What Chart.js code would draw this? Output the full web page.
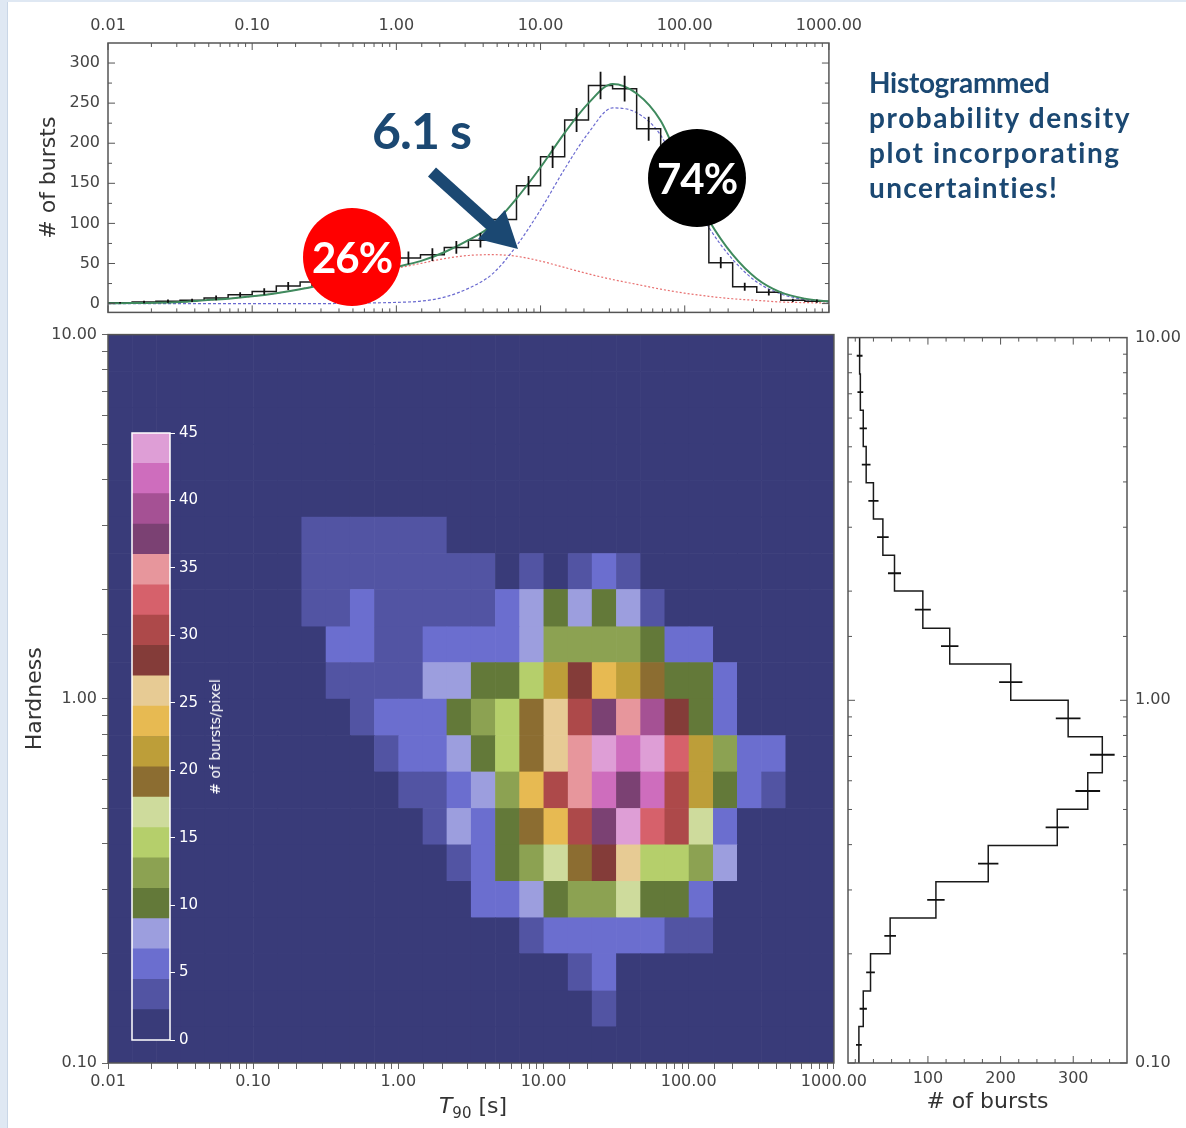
<!DOCTYPE html>
<html>
<head>
<meta charset="utf-8">
<title>T90 vs hardness</title>
<script src="https://cdn.jsdelivr.net/npm/chart.js@4.4.1/dist/chart.umd.min.js"></script>
<style>
  body { margin: 0; background: #fff; }
  #page { position: relative; width: 1186px; height: 1128px; overflow: hidden; background: #fff; font-family: "DejaVu Sans", sans-serif; }
  #page canvas { position: absolute; }
  #edge { position: absolute; left: 0; top: 0; width: 7px; height: 1128px; background: #dfe8f3; border-right: 1px solid #c9d6e6; }
  #topband { position: absolute; left: 0; top: 0; width: 1186px; height: 2px; background: #dfe8f3; }
  .blob { position: absolute; width: 98px; height: 98px; border-radius: 50%; color: #fff; font: bold 42px Lato, sans-serif; display: flex; align-items: center; justify-content: center; letter-spacing: -1px; }
  #note { position: absolute; left: 869px; top: 65px; font: bold 28px Lato, sans-serif; line-height: 35px; color: #1b4872; white-space: nowrap; }
  #split { position: absolute; left: 372px; top: 100px; font: bold 50px Lato, sans-serif; color: #1b4872; letter-spacing: -1px; }
  #t90title { position: absolute; left: 423px; top: 1093px; width: 100px; text-align: center; font-size: 22px; color: #333; }
  #t90title sub { font-size: 15px; }
  #cbtitle { position: absolute; left: 215px; top: 737px; transform: translate(-50%, -50%) rotate(-90deg); white-space: nowrap; font-size: 14px; color: #fff; }
  #arrow { position: absolute; left: 0; top: 0; }
</style>
</head>
<body>
<div id="page">
  <div id="edge"></div>
  <div id="topband"></div>
  <canvas id="topHist" width="870" height="330" style="left:0;top:0"></canvas>
  <canvas id="heat" width="870" height="808" style="left:0;top:320px"></canvas>
  <canvas id="sideHist" width="346" height="808" style="left:840px;top:320px"></canvas>
  <canvas id="cbar" width="110" height="640" style="left:120px;top:420px"></canvas>
  <div id="cbtitle"># of bursts/pixel</div>
  <div id="t90title"><i>T</i><sub>90</sub> [s]</div>
  <div id="note">
    <span style="letter-spacing:-0.3px">Histogrammed</span><br>
    <span style="letter-spacing:1.6px">probability density</span><br>
    <span style="letter-spacing:1.6px">plot incorporating</span><br>
    <span style="letter-spacing:1.35px">uncertainties!</span>
  </div>
  <div id="split">6.1 s</div>
  <svg id="arrow" width="1186" height="330">
    <line x1="432" y1="172" x2="494" y2="228" stroke="#1b4872" stroke-width="12"/>
    <polygon points="518,249 478,239 505,210" fill="#1b4872"/>
  </svg>
  <div class="blob" style="left:303px;top:208px;background:#ff0000">26%</div>
  <div class="blob" style="left:648px;top:129px;background:#000">74%</div>
</div>

<script>
// T90 bins (s) - shared by the top histogram and the columns of the map
const t90Edges = [0.01, 0.0147, 0.0215, 0.0316, 0.0464, 0.0681, 0.1, 0.147, 0.215, 0.316, 0.464, 0.681,
  1, 1.47, 2.15, 3.16, 4.64, 6.81, 10, 14.7, 21.5, 31.6, 46.4, 68.1, 100, 147, 215, 316, 464, 681, 1000];
const t90Counts = [1, 2, 3, 4, 7, 11, 15, 22, 27, 32, 40, 50, 57, 61, 70, 79, 105, 147, 183, 229,
  272, 268, 218, 178, 128, 51, 21, 14, 4, 3];
const t90Err = [1, 1.5, 2, 2, 3, 3, 4, 5, 5, 6, 6, 7, 8, 8, 8, 9, 10, 12, 14, 15, 17, 16, 15, 13, 11, 7, 5, 4, 2, 2];

// fitted components, read at the bin edges
const fitShort = [0.3, 0.6, 1, 2, 4, 6, 9, 13, 18, 24, 30, 37, 44, 50, 56, 60, 61, 59, 53, 45,
  37, 30, 24, 18, 13, 9, 6, 4, 2, 1.2, 0.6];
const fitLong = [0, 0, 0, 0, 0, 0, 0, 0, 0, 0, 0.3, 0.8, 1.5, 3, 8, 19, 37, 72, 117, 168,
  213, 244, 238, 210, 149, 95, 55, 27, 12, 5, 2];
const fitTotal = [0.3, 0.6, 1, 2, 4, 6, 9, 13, 18, 24, 30.3, 37.8, 45.5, 53, 64, 79, 98, 131, 170, 213,
  250, 274, 262, 228, 162, 104, 61, 31, 14, 6.2, 2.6];
const topCountTicks = [0, 25, 50, 75, 100, 125, 150, 175, 200, 225, 250, 275, 300];

// hardness bins, low to high
const hardEdges = [0.1, 0.126, 0.158, 0.2, 0.251, 0.316, 0.398, 0.501, 0.631, 0.794,
  1, 1.26, 1.58, 2, 2.51, 3.16, 3.98, 5.01, 6.31, 7.94, 10];
const hardCounts = [5, 11, 21, 48, 111, 183, 278, 320, 340, 293, 214, 130, 93, 54, 38, 25, 15, 11, 7, 6];
const hardErr = [4, 5, 6, 8, 12, 14, 16, 17, 17, 17, 16, 12, 11, 9, 8, 7, 6, 5, 4, 4];
const sideCountTicks = [0, 25, 50, 75, 100, 125, 150, 175, 200, 225, 250, 275, 300, 325, 350];

// bursts per pixel, rows from hardness 10 (top) down to 0.1, columns follow t90Edges
const heatCounts = [
  [0,0,0,0,0,0,0,0,0,0,0,0,0,0,0,0,0,0,0,0,0,0,0,0,0,0,0,0,0,0],
  [0,0,0,0,0,0,0,0,0,0,0,0,0,0,0,0,0,0,0,0,0,0,0,0,0,0,0,0,0,0],
  [0,0,0,0,0,0,0,0,0,0,0,0,0,0,0,0,0,0,0,0,0,0,0,0,0,0,0,0,0,0],
  [0,0,0,0,0,0,0,0,0,0,0,0,0,0,0,0,0,0,0,0,0,0,0,0,0,0,0,0,0,0],
  [0,0,0,0,0,0,0,0,0,0,0,0,0,0,0,0,0,0,0,0,0,0,0,0,0,0,0,0,0,0],
  [0,0,0,0,0,0,0,0,3,3,3,3,3,3,0,0,0,0,0,0,0,0,0,0,0,0,0,0,0,0],
  [0,0,0,0,0,0,0,0,3,3,3,3,3,3,3,3,0,3,0,3,5,3,0,0,0,0,0,0,0,0],
  [0,0,0,0,0,0,0,0,3,3,5,3,3,3,3,3,5,8,10,8,10,8,3,0,0,0,0,0,0,0],
  [0,0,0,0,0,0,0,0,0,5,5,3,3,5,5,5,5,8,12,12,12,12,10,5,5,0,0,0,0,0],
  [0,0,0,0,0,0,0,0,0,3,3,3,3,8,8,10,10,15,21,28,24,21,19,10,10,5,0,0,0,0],
  [0,0,0,0,0,0,0,0,0,0,3,5,5,5,10,12,15,19,26,30,37,35,39,28,10,5,0,0,0,0],
  [0,0,0,0,0,0,0,0,0,0,0,3,5,5,8,10,15,19,26,35,44,42,44,33,21,12,5,5,0,0],
  [0,0,0,0,0,0,0,0,0,0,0,0,3,3,5,8,12,24,30,35,42,37,42,30,21,10,5,3,0,0],
  [0,0,0,0,0,0,0,0,0,0,0,0,0,3,8,5,10,19,24,30,37,44,33,30,17,5,0,0,0,0],
  [0,0,0,0,0,0,0,0,0,0,0,0,0,0,3,5,10,12,17,19,28,26,15,15,12,8,0,0,0,0],
  [0,0,0,0,0,0,0,0,0,0,0,0,0,0,0,5,5,8,10,12,12,17,10,10,5,0,0,0,0,0],
  [0,0,0,0,0,0,0,0,0,0,0,0,0,0,0,0,0,3,5,5,5,5,5,3,3,0,0,0,0,0],
  [0,0,0,0,0,0,0,0,0,0,0,0,0,0,0,0,0,0,0,3,5,0,0,0,0,0,0,0,0,0],
  [0,0,0,0,0,0,0,0,0,0,0,0,0,0,0,0,0,0,0,0,3,0,0,0,0,0,0,0,0,0],
  [0,0,0,0,0,0,0,0,0,0,0,0,0,0,0,0,0,0,0,0,0,0,0,0,0,0,0,0,0,0]
];

// colour bar: 20 bands of 2.25 bursts/pixel (0 - 45)
const tab20b = ['#393b79', '#5254a3', '#6b6ecf', '#9c9ede', '#637939', '#8ca252', '#b5cf6b', '#cedb9c',
  '#8c6d31', '#bd9e39', '#e7ba52', '#e7cb94', '#843c39', '#ad494a', '#d6616b', '#e7969c',
  '#7b4173', '#a55194', '#ce6dbd', '#de9ed6'];
const cbStep = 2.25;

Chart.defaults.font.family = '"DejaVu Sans", sans-serif';
Chart.defaults.font.size = 16;
Chart.defaults.color = '#444';

function bandColor(n) {
  return tab20b[Math.min(tab20b.length - 1, Math.floor(n / cbStep))];
}

// label only the decades, matplotlib style 0.01 / 0.10 / 1.00 ...
function decadeLabel(v) {
  const l = Math.log10(v);
  return Math.abs(l - Math.round(l)) < 1e-6 ? Number(v).toFixed(2) : '';
}

function stepX(edges, vals) {
  const pts = [];
  vals.forEach(function(v, i) { pts.push({x: edges[i], y: v}, {x: edges[i + 1], y: v}); });
  return pts;
}
function stepY(edges, vals) {
  const pts = [];
  vals.forEach(function(v, i) { pts.push({x: v, y: edges[i]}, {x: v, y: edges[i + 1]}); });
  return pts;
}
function errBarsX(edges, vals, errs) {
  const pts = [];
  vals.forEach(function(v, i) {
    const c = Math.sqrt(edges[i] * edges[i + 1]);
    pts.push({x: c, y: v - errs[i]}, {x: c, y: v + errs[i]}, {x: c, y: null});
  });
  return pts;
}
function errBarsY(edges, vals, errs) {
  const pts = [];
  vals.forEach(function(v, i) {
    const c = Math.sqrt(edges[i] * edges[i + 1]);
    pts.push({x: v - errs[i], y: c}, {x: v + errs[i], y: c}, {x: v, y: null});
  });
  return pts;
}
function curve(edges, vals) {
  return edges.map(function(e, i) { return {x: e, y: vals[i]}; });
}
function line(data, color, width, extra) {
  return Object.assign({data: data, borderColor: color, borderWidth: width, showLine: true, pointRadius: 0}, extra || {});
}
function fixedTicks(values) {
  return function(s) { s.ticks = values.map(function(v) { return {value: v}; }); };
}

const framePlugin = {
  id: 'frame',
  afterDatasetsDraw(chart, args, opts) {
    const a = chart.chartArea, ctx = chart.ctx;
    ctx.save();
    ctx.strokeStyle = opts.color || '#555';
    ctx.lineWidth = opts.width || 1.5;
    ctx.strokeRect(a.left, a.top, a.right - a.left, a.bottom - a.top);
    ctx.restore();
  }
};

// inward ticks on all four sides, longer where the tick carries a label
const inTicksPlugin = {
  id: 'inTicks',
  afterDatasetsDraw(chart) {
    const a = chart.chartArea, ctx = chart.ctx;
    ctx.save();
    ctx.strokeStyle = '#555';
    ctx.lineWidth = 1;
    Object.values(chart.scales).forEach(function(s) {
      s.ticks.forEach(function(t) {
        const len = (t.label !== '' && t.label != null) ? 7 : 4;
        const p = s.getPixelForValue(t.value);
        ctx.beginPath();
        if (s.isHorizontal()) {
          ctx.moveTo(p, a.top); ctx.lineTo(p, a.top + len);
          ctx.moveTo(p, a.bottom); ctx.lineTo(p, a.bottom - len);
        } else {
          ctx.moveTo(a.left, p); ctx.lineTo(a.left + len, p);
          ctx.moveTo(a.right, p); ctx.lineTo(a.right - len, p);
        }
        ctx.stroke();
      });
    });
    ctx.restore();
  }
};

const heatPlugin = {
  id: 'heat',
  beforeDatasetsDraw(chart) {
    const xs = chart.scales.x, ys = chart.scales.y, ctx = chart.ctx, a = chart.chartArea;
    const nr = hardEdges.length - 1;
    ctx.save();
    ctx.beginPath();
    ctx.rect(a.left, a.top, a.right - a.left, a.bottom - a.top);
    ctx.clip();
    heatCounts.forEach(function(row, r) {
      const y0 = ys.getPixelForValue(hardEdges[nr - r]);
      const y1 = ys.getPixelForValue(hardEdges[nr - r - 1]);
      row.forEach(function(n, c) {
        const x0 = xs.getPixelForValue(t90Edges[c]);
        const x1 = xs.getPixelForValue(t90Edges[c + 1]);
        ctx.fillStyle = bandColor(n);
        ctx.fillRect(x0, y0, x1 - x0 + 0.6, y1 - y0 + 0.6);
      });
    });
    ctx.restore();
  }
};

const base = {
  responsive: false,
  animation: false,
  devicePixelRatio: 1,
  plugins: {legend: {display: false}, tooltip: {enabled: false}}
};
const noGrid = {display: false, drawTicks: false};
const axisTitle = function(text) {
  return {display: true, text: text, color: '#333', font: {size: 22}};
};

// top: T90 distribution with the two-component fit
new Chart(document.getElementById('topHist'), {
  type: 'scatter',
  data: {
    datasets: [
      line(errBarsX(t90Edges, t90Counts, t90Err), '#111', 1.8),
      line(curve(t90Edges, fitTotal), '#3f8a5e', 2, {tension: 0.4, cubicInterpolationMode: 'monotone'}),
      line(stepX(t90Edges, t90Counts), '#1a1a1a', 1.5),
      line(curve(t90Edges, fitLong), '#6a6ad0', 1.2, {borderDash: [3, 2], tension: 0.4, cubicInterpolationMode: 'monotone'}),
      line(curve(t90Edges, fitShort), '#e87070', 1.2, {borderDash: [2, 2], tension: 0.4, cubicInterpolationMode: 'monotone'})
    ]
  },
  options: Object.assign({}, base, {
    layout: {padding: {left: 32, top: 0, right: 33, bottom: 7}},
    scales: {
      x: {
        type: 'logarithmic', position: 'top', min: 0.01, max: 1000,
        grid: noGrid, border: {display: false},
        ticks: {autoSkip: false, maxRotation: 0, padding: 8, callback: decadeLabel},
        afterFit: function(s) { s.height = 43; }
      },
      y: {
        min: -11, max: 325,
        grid: noGrid, border: {display: false},
        ticks: {autoSkip: false, padding: 8, callback: function(v) { return v % 50 === 0 ? String(v) : ''; }},
        afterBuildTicks: fixedTicks(topCountTicks),
        title: axisTitle('# of bursts'),
        afterFit: function(s) { s.width = 76; }
      }
    }
  }),
  plugins: [inTicksPlugin, framePlugin]
});

// main: T90 / hardness map
new Chart(document.getElementById('heat'), {
  type: 'scatter',
  data: {datasets: [{data: []}]},
  options: Object.assign({}, base, {
    layout: {padding: {left: 18, top: 14, right: 33, bottom: 0}},
    scales: {
      x: {
        type: 'logarithmic', min: 0.01, max: 1000,
        grid: {drawOnChartArea: false, tickLength: 6, color: '#666'}, border: {display: false},
        ticks: {autoSkip: false, maxRotation: 0, padding: 3, callback: decadeLabel},
        afterFit: function(s) { s.height = 65; }
      },
      y: {
        type: 'logarithmic', min: 0.1, max: 10,
        grid: {drawOnChartArea: false, tickLength: 6, color: '#666'}, border: {display: false},
        ticks: {autoSkip: false, padding: 5, callback: decadeLabel},
        title: axisTitle('Hardness'),
        afterFit: function(s) { s.width = 90; }
      }
    }
  }),
  plugins: [heatPlugin, framePlugin]
});

// right: hardness distribution
new Chart(document.getElementById('sideHist'), {
  type: 'scatter',
  data: {
    datasets: [
      line(errBarsY(hardEdges, hardCounts, hardErr), '#111', 1.8),
      line(stepY(hardEdges, hardCounts), '#1a1a1a', 1.5)
    ]
  },
  options: Object.assign({}, base, {
    layout: {padding: {left: 8, top: 14, right: 0, bottom: 9}},
    scales: {
      x: {
        min: -10, max: 374,
        grid: noGrid, border: {display: false},
        ticks: {autoSkip: false, padding: 6, maxRotation: 0, callback: function(v) { return (v > 0 && v % 100 === 0) ? String(v) : ''; }},
        afterBuildTicks: fixedTicks(sideCountTicks),
        title: axisTitle('# of bursts'),
        afterFit: function(s) { s.height = 56; }
      },
      y: {
        type: 'logarithmic', position: 'right', min: 0.1, max: 10,
        grid: noGrid, border: {display: false},
        ticks: {autoSkip: false, padding: 8, callback: decadeLabel},
        afterFit: function(s) { s.width = 59; }
      }
    }
  }),
  plugins: [inTicksPlugin, framePlugin]
});

// colour bar inset
new Chart(document.getElementById('cbar'), {
  type: 'bar',
  data: {
    labels: [''],
    datasets: tab20b.map(function(c) {
      return {data: [cbStep], backgroundColor: c, borderWidth: 0, barPercentage: 1, categoryPercentage: 1};
    })
  },
  options: Object.assign({}, base, {
    layout: {padding: {left: 12, top: 12, right: 0, bottom: 20}},
    plugins: {legend: {display: false}, tooltip: {enabled: false}, frame: {color: '#fff', width: 1.5}},
    scales: {
      x: {display: false, stacked: true},
      y: {
        stacked: true, position: 'right', min: 0, max: 45,
        grid: {drawOnChartArea: false, color: '#fff', tickLength: 5}, border: {display: false},
        ticks: {stepSize: 5, color: '#fff', padding: 4, font: {size: 15}},
        afterFit: function(s) { s.width = 60; }
      }
    }
  }),
  plugins: [framePlugin]
});
</script>
</body>
</html>
